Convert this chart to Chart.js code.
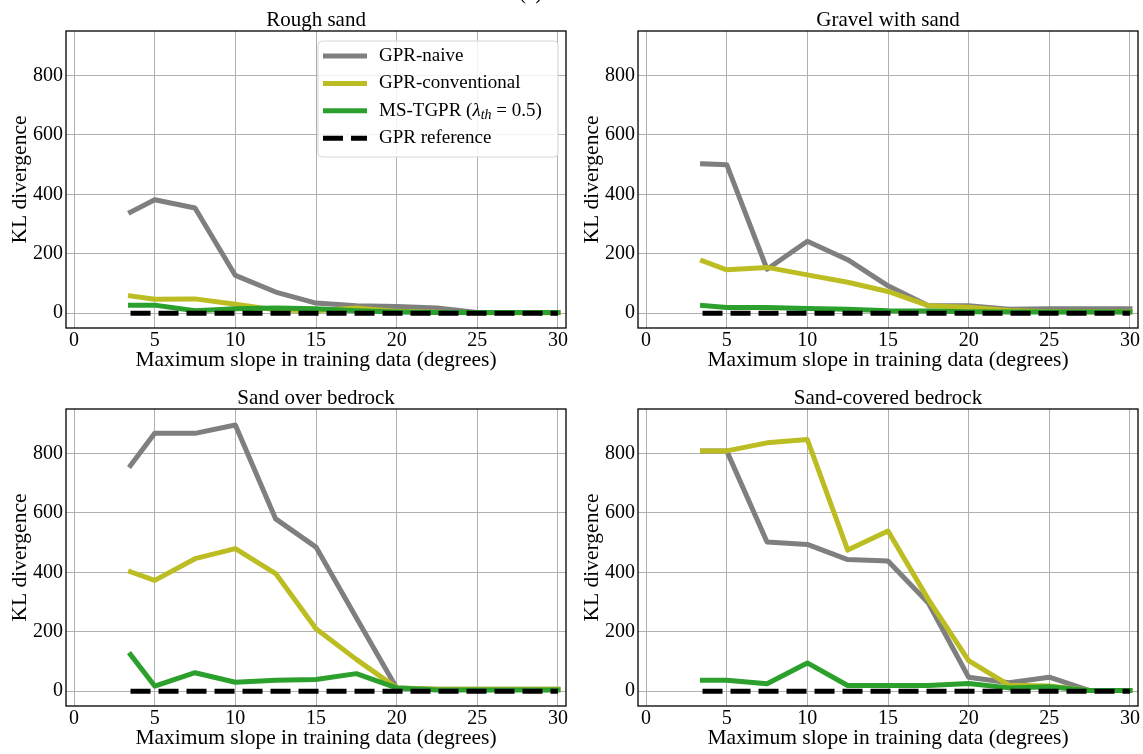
<!DOCTYPE html>
<html>
<head>
<meta charset="utf-8">
<script src="https://cdn.jsdelivr.net/npm/chart.js@4.4.1/dist/chart.umd.min.js"></script>
<style>
  html, body { margin: 0; padding: 0; background: #fff; }
  body { width: 1143px; height: 754px; position: relative; overflow: hidden; }
  canvas { position: absolute; }
  .tag { position: absolute; font-family: 'Liberation Serif', serif; font-size: 21px; line-height: 21px; color: #000;
         will-change: transform; }
</style>
</head>
<body>
<div class="tag" style="left:519px; top:-18px">(a)</div>
<canvas id="roughSand" width="571" height="377" style="left:0; top:0"></canvas>
<canvas id="gravelSand" width="571" height="377" style="left:572px; top:0"></canvas>
<canvas id="sandBedrock" width="571" height="377" style="left:0; top:378px"></canvas>
<canvas id="coveredBedrock" width="571" height="377" style="left:572px; top:378px"></canvas>
<script>
// x positions: maximum slope used for training (degrees)
const slopes = [3.5, 5, 7.5, 10, 12.5, 15, 17.5, 20, 22.5, 25, 27.5, 30];
const xTicks = [0, 5, 10, 15, 20, 25, 30];
const yTicks = [0, 200, 400, 600, 800];

const seriesLabels = ['GPR-naive', 'GPR-conventional', 'MS-TGPR (λth = 0.5)', 'GPR reference'];

// Rough sand
const roughNaive = [340, 382, 354, 127, 71, 34, 25, 22, 17, 2, 2, 2];
const roughConv = [58, 47, 48, 30, 11, 8, 17, 6, 3, 1, 1, 1];
const roughTgpr = [27, 27, 8, 15, 17, 15, 8, 4, 2, 2, 2, 2];

// Gravel with sand
const gravelNaive = [503, 500, 148, 242, 180, 92, 25, 25, 13, 15, 15, 15];
const gravelConv = [176, 146, 154, 129, 104, 73, 25, 20, 9, 5, 5, 5];
const gravelTgpr = [26, 19, 19, 16, 13, 8, 7, 5, 4, 4, 4, 4];

// Sand over bedrock
const overNaive = [760, 868, 868, 896, 580, 485, 247, 11, 6, 6, 6, 6];
const overConv = [402, 373, 446, 480, 396, 210, 107, 11, 6, 6, 6, 6];
const overTgpr = [123, 17, 62, 30, 37, 39, 59, 11, 4, 4, 4, 4];

// Sand-covered bedrock
const coveredNaive = [809, 809, 502, 494, 443, 438, 297, 47, 28, 47, 2, 2];
const coveredConv = [809, 809, 836, 847, 475, 539, 309, 103, 20, 17, 2, 2];
const coveredTgpr = [37, 37, 25, 95, 19, 19, 19, 26, 11, 15, 2, 2];

// GPR reference sits at zero everywhere
const reference = [0, 0, 0, 0, 0, 0, 0, 0, 0, 0, 0, 0];

// Color Variables
const greyColor = '#7f7f7f',
  oliveColor = '#bcbd22',
  greenColor = '#2ca02c',
  blackColor = '#000000',
  gridColor = '#b0b0b0';

const serif = "'Liberation Serif', 'Times New Roman', serif";

function toPoints(values) {
  return slopes.map(function (s, i) {
    return { x: s, y: values[i] };
  });
}

// black frame round the plot area (all four sides)
const framePlugin = {
  id: 'frame',
  afterDatasetsDraw: function (chart) {
    const a = chart.chartArea, ctx = chart.ctx;
    ctx.save();
    ctx.strokeStyle = '#000';
    ctx.lineWidth = 1.3;
    ctx.strokeRect(a.left, a.top, a.right - a.left, a.bottom - a.top);
    ctx.restore();
  }
};

// legend box drawn inside the plot, upper right
const legendBoxPlugin = {
  id: 'legendBox',
  afterDraw: function (chart, args, opts) {
    if (!opts.show) return;
    const ctx = chart.ctx, a = chart.chartArea;
    const w = 240, h = 116;
    const x0 = a.right - 8 - w, y0 = a.top + 10;
    ctx.save();
    ctx.beginPath();
    ctx.roundRect(x0, y0, w, h, 4);
    ctx.fillStyle = 'rgba(255,255,255,0.85)';
    ctx.fill();
    ctx.strokeStyle = '#d6d6d6';
    ctx.lineWidth = 1;
    ctx.stroke();

    const rows = chart.data.datasets.slice().sort(function (p, q) { return p.legendIndex - q.legendIndex; });
    rows.forEach(function (ds, i) {
      const cy = y0 + 15 + i * 27.4;
      ctx.beginPath();
      ctx.setLineDash(ds.borderDash || []);
      ctx.lineCap = 'butt';
      ctx.strokeStyle = ds.borderColor;
      ctx.lineWidth = 5;
      ctx.moveTo(x0 + 5, cy);
      ctx.lineTo(x0 + 49, cy);
      ctx.stroke();
      ctx.setLineDash([]);

      ctx.fillStyle = '#000';
      ctx.textBaseline = 'middle';
      ctx.textAlign = 'left';
      let tx = x0 + 61;
      const normal = '19px ' + serif, italic = 'italic 19px ' + serif, small = 'italic 14px ' + serif;
      if (ds.label.indexOf('λth') >= 0) {
        const parts = ds.label.split('λth');
        ctx.font = normal; ctx.fillText(parts[0], tx, cy); tx += ctx.measureText(parts[0]).width;
        ctx.font = italic; ctx.fillText('λ', tx, cy); tx += ctx.measureText('λ').width;
        ctx.font = small; ctx.fillText('th', tx, cy + 5); tx += ctx.measureText('th').width;
        ctx.font = normal; ctx.fillText(parts[1], tx, cy);
      } else {
        ctx.font = normal;
        ctx.fillText(ds.label, tx, cy);
      }
    });
    ctx.restore();
  }
};

function makePanel(canvasId, title, naive, conv, tgpr, withLegend) {
  const el = document.getElementById(canvasId);
  if (!el) return;
  return new Chart(el, {
    type: 'line',
    data: {
      datasets: [
        { label: seriesLabels[0], data: toPoints(naive), borderColor: greyColor, order: 4, legendIndex: 0 },
        { label: seriesLabels[1], data: toPoints(conv), borderColor: oliveColor, order: 3, legendIndex: 1 },
        { label: seriesLabels[2], data: toPoints(tgpr), borderColor: greenColor, order: 2, legendIndex: 2 },
        { label: seriesLabels[3], data: toPoints(reference), borderColor: blackColor, borderDash: [20, 8],
          borderCapStyle: 'butt', order: 1, legendIndex: 3 }
      ]
    },
    options: {
      responsive: false,
      animation: false,
      devicePixelRatio: 1,
      layout: { padding: { left: 0, right: 5, top: 0, bottom: 0 } },
      elements: {
        point: { radius: 0 },
        line: { borderWidth: 5, tension: 0, borderCapStyle: 'square', borderJoinStyle: 'round', fill: false }
      },
      plugins: {
        legend: { display: false },
        tooltip: { enabled: false },
        title: {
          display: true,
          fullSize: false,
          text: title,
          color: '#000',
          font: { family: serif, size: 21, weight: 'normal', lineHeight: 1 },
          padding: { top: 9.5, bottom: 0.5 }
        },
        legendBox: { show: withLegend }
      },
      scales: {
        x: {
          type: 'linear',
          min: -0.5,
          max: 30.5,
          afterBuildTicks: function (scale) { scale.ticks = xTicks.map(function (v) { return { value: v }; }); },
          afterFit: function (scale) { scale.height = 49; },
          grid: { color: gridColor, lineWidth: 1, drawTicks: false },
          border: { display: false },
          ticks: { color: '#000', padding: 1, font: { family: serif, size: 20 }, maxRotation: 0 },
          title: {
            display: true,
            text: 'Maximum slope in training data (degrees)',
            color: '#000',
            font: { family: serif, size: 21.5, lineHeight: 1.2 },
            padding: { top: 0, bottom: 3.4 }
          }
        },
        y: {
          type: 'linear',
          min: -50,
          max: 950,
          afterBuildTicks: function (scale) { scale.ticks = yTicks.map(function (v) { return { value: v }; }); },
          afterFit: function (scale) { scale.width = 66; },
          grid: { color: gridColor, lineWidth: 1, drawTicks: false },
          border: { display: false },
          ticks: { color: '#000', padding: 3, font: { family: serif, size: 20 } },
          title: {
            display: true,
            text: 'KL divergence',
            color: '#000',
            font: { family: serif, size: 21.5, lineHeight: 1.2 },
            padding: { top: 7.4, bottom: 0 }
          }
        }
      }
    },
    plugins: [framePlugin, legendBoxPlugin]
  });
}

document.addEventListener('DOMContentLoaded', function () {
  makePanel('roughSand', 'Rough sand', roughNaive, roughConv, roughTgpr, true);
  makePanel('gravelSand', 'Gravel with sand', gravelNaive, gravelConv, gravelTgpr, false);
  makePanel('sandBedrock', 'Sand over bedrock', overNaive, overConv, overTgpr, false);
  makePanel('coveredBedrock', 'Sand-covered bedrock', coveredNaive, coveredConv, coveredTgpr, false);
});
</script>
</body>
</html>
